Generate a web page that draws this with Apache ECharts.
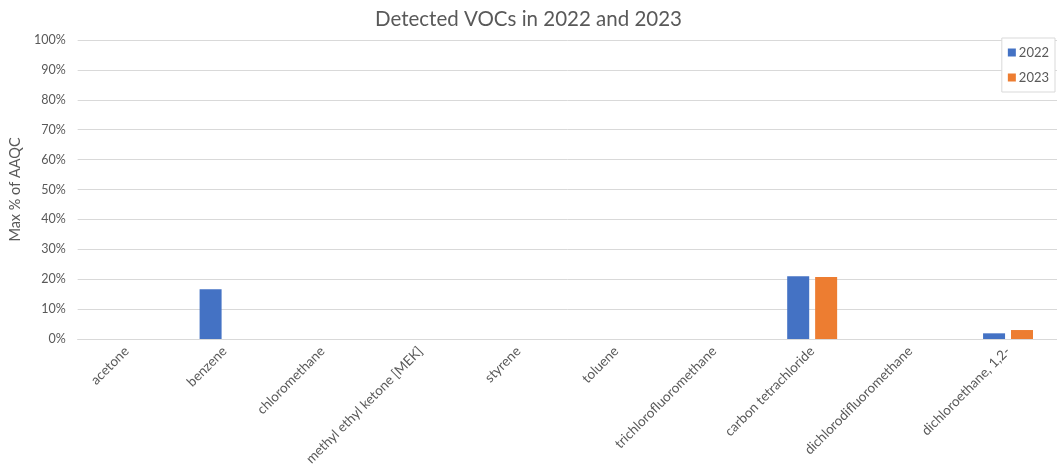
<!DOCTYPE html>
<html>
<head>
<meta charset="utf-8">
<script src="https://cdn.jsdelivr.net/npm/echarts@6/dist/echarts.min.js"></script>
<style>
  html, body { margin: 0; padding: 0; background: #fff; }
  #chart { width: 1057px; height: 473px; }
</style>
</head>
<body>
<div id="chart"></div>
<script>
// Detected VOCs, max percentage of AAQC per year
const categories = [
  'acetone', 'benzene', 'chloromethane', 'methyl ethyl ketone [MEK]', 'styrene',
  'toluene', 'trichlorofluoromethane', 'carbon tetrachloride',
  'dichlorodifluoromethane', 'dichloroethane, 1,2-'
];
const values2022 = [0, 16.6, 0, 0, 0, 0, 0, 21.0, 0, 1.9];
const values2023 = [0, 0, 0, 0, 0, 0, 0, 20.7, 0, 3.0];
const seriesNames = ['2022', '2023'];

const FONT = 'Lato, "Open Sans", sans-serif';
const TEXT = '#595959';
const GRID = '#d9d9d9';

const chart = echarts.init(document.getElementById('chart'), null, { renderer: 'canvas' });
chart.setOption({
  animation: false,
  backgroundColor: '#fff',
  textStyle: { fontFamily: FONT },
  title: {
    text: 'Detected VOCs in 2022 and 2023',
    left: 'center',
    top: 4,
    textStyle: { fontFamily: FONT, fontSize: 20.5, fontWeight: 'normal', color: TEXT }
  },
  legend: {
    data: seriesNames,
    orient: 'vertical',
    right: 2,
    top: 38,
    padding: [8, 6, 8, 6],
    borderColor: GRID,
    borderWidth: 1,
    backgroundColor: '#fff',
    itemWidth: 8,
    itemHeight: 8,
    itemGap: 12,
    icon: 'rect',
    textStyle: { fontFamily: FONT, fontSize: 13, color: TEXT, padding: [0, 0, 0, -2] }
  },
  grid: { left: 76, top: 40, width: 987, height: 299, containLabel: false },
  xAxis: {
    type: 'category',
    data: categories,
    axisLine: { lineStyle: { color: GRID } },
    axisTick: { show: false },
    axisLabel: {
      interval: 0,
      rotate: 45,
      margin: 10,
      fontFamily: FONT,
      fontSize: 13.5,
      color: TEXT
    }
  },
  yAxis: {
    type: 'value',
    min: 0,
    max: 100,
    interval: 10,
    name: 'Max % of AAQC',
    nameLocation: 'middle',
    nameGap: 51,
    nameTextStyle: { fontFamily: FONT, fontSize: 14.5, color: TEXT },
    axisLine: { show: false },
    axisTick: { show: false },
    splitLine: { lineStyle: { color: GRID } },
    axisLabel: {
      formatter: '{value}%',
      margin: 12,
      fontFamily: FONT,
      fontSize: 12.5,
      color: TEXT
    }
  },
  series: [
    {
      name: seriesNames[0],
      type: 'bar',
      data: values2022,
      barWidth: 22,
      barGap: '27%',
      itemStyle: { color: '#4472c4' }
    },
    {
      name: seriesNames[1],
      type: 'bar',
      data: values2023,
      barWidth: 22,
      itemStyle: { color: '#ed7d31' }
    }
  ]
});
</script>
</body>
</html>
